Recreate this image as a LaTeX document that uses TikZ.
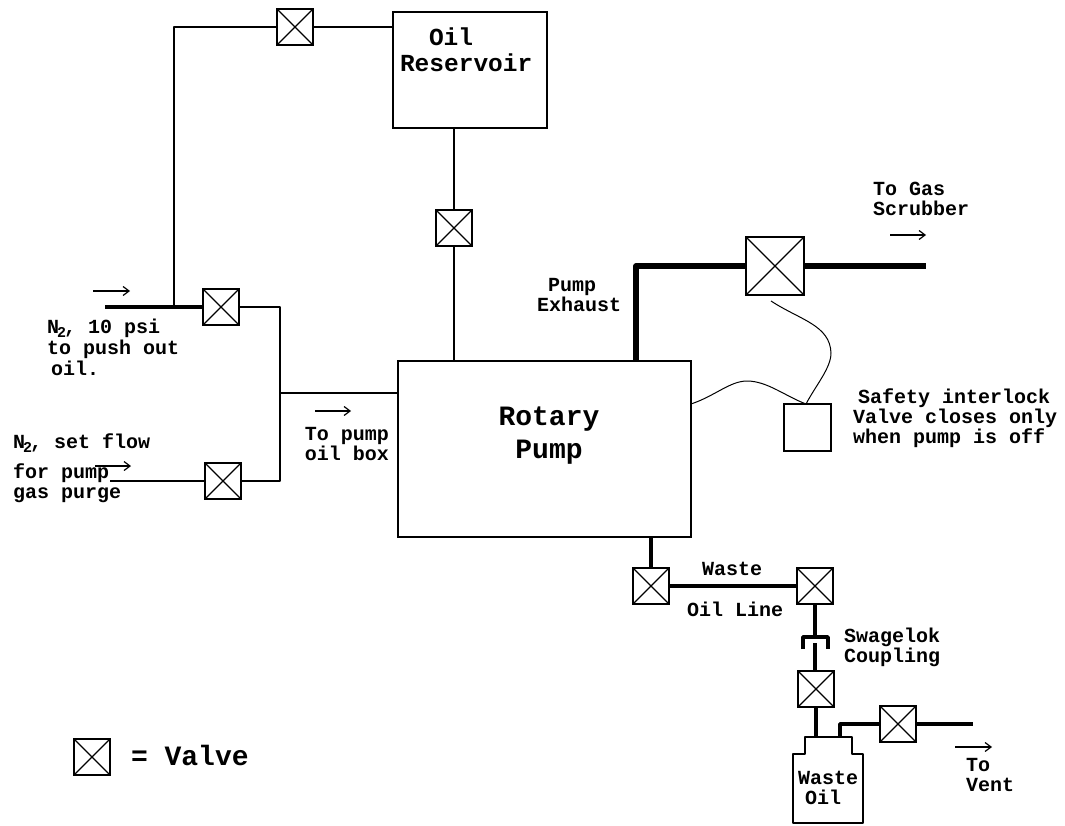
\documentclass[tikz,border=0pt]{standalone}
\usepackage{fontspec}
\setmainfont{Liberation Mono}[BoldFont={Liberation Mono Bold}]
\usetikzlibrary{arrows.meta}
\newcommand{\ntwo}{N\kern-2pt\raisebox{-4pt}{\fontsize{15}{15}\selectfont 2}\kern-2pt}
\tikzset{
  lbl/.style={inner sep=0pt,outer sep=0pt,font=\fontsize{20}{20}\selectfont\bfseries,align=left,anchor=west},
  valve/.style={draw,line width=2pt,fill=white,inner sep=0pt,outer sep=0pt,minimum size=#1,
    path picture={\draw[line width=1.1pt] (path picture bounding box.north west)--(path picture bounding box.south east)
      (path picture bounding box.north east)--(path picture bounding box.south west);}},
  valve/.default=36pt,
  tank/.style={draw,line width=1.5pt,inner sep=0pt,outer sep=0pt},
  thinpipe/.style={line width=1.5pt},
  medpipe/.style={line width=2.6pt},
  heavypipe/.style={line width=3.6pt},
  fatpipe/.style={line width=5.5pt},
  flow/.style={line width=1.2pt,-{Straight Barb[length=6pt,width=9pt]}},
  wire/.style={line width=1pt},
}
\begin{document}
\begin{tikzpicture}[x=1pt,y=-1pt]
\useasboundingbox[fill=white] (0,0) rectangle (1065,826);
% equipment
\node[tank,minimum width=154pt,minimum height=116pt] (res) at (470,70) {};
\node[tank,minimum width=293pt,minimum height=176pt] (pump) at (544.5,449) {};
\node[tank,minimum width=47pt,minimum height=47pt] (lock) at (807.5,427.5) {};
% valves
\node[valve] (vtop) at (295,27) {};
\node[valve] (vres) at (454,228) {};
\node[valve] (vn1) at (221,307) {};
\node[valve] (vn2) at (223,481) {};
\node[valve=58pt] (vex) at (775,266) {};
\node[valve] (vw1) at (651,586) {};
\node[valve] (vw2) at (815,586) {};
\node[valve] (vw3) at (816,689) {};
\node[valve] (vv) at (898,724) {};
\node[valve] (vleg) at (92,757) {};
% free ends and junctions
\coordinate (n1in) at (105,307);
\coordinate (n2in) at (110,481);
\coordinate (tee1) at (174,307);
\coordinate (corner1) at (174,27);
\coordinate (bus1) at (280,307);
\coordinate (bus2) at (280,481);
\coordinate (bus3) at (280,393);
\coordinate (pumpin) at (398,393);
\coordinate (exout) at (926,266);
\coordinate (excorner) at (636,266);
\coordinate (expump) at (636,361);
\coordinate (ventout) at (973,724);
\coordinate (cplT) at (815,637);
\coordinate (cplB) at (815,643);
\coordinate (neck) at (816,737);
\coordinate (neck2) at (840,737);
\coordinate (drain) at (651,537);
% pipes
\draw[thinpipe] (vres.north) -- (vres.north |- res.south);
\draw[thinpipe] (vres.south) -- (vres.south |- pump.north);
\draw[medpipe,line join=round] (tee1) -- (corner1) -- (vtop.west);
\draw[thinpipe] (vtop.east) -- (vtop.east -| res.west);
\draw[heavypipe] (n1in) -- (vn1.west);
\draw[medpipe,line join=round] (vn1.east) -- (bus1) -- (bus2) -- (vn2.east);
\draw[medpipe] (n2in) -- (vn2.west);
\draw[medpipe] (bus3) -- (pumpin);
\draw[fatpipe,line join=round] (expump) -- (excorner) -- (vex.west);
\draw[fatpipe] (vex.east) -- (exout);
\draw[heavypipe] (drain) -- (vw1.north);
\draw[heavypipe] (vw1.east) -- (vw2.west);
\draw[heavypipe] (vw2.south) -- (cplT);
\draw[heavypipe,line join=round] (803,649) -- (803,637) -- (828,637) -- (828,649);
\draw[heavypipe] (cplB) -- (vw3.north -| cplB);
\draw[heavypipe] (vw3.south) -- (neck);
\draw[heavypipe,line join=round] (neck2) -- (840,724) -- (vv.west);
\draw[heavypipe] (vv.east) -- (ventout);
% waste bottle
\draw[line width=2.6pt,line join=round] (805,754) -- (805,737) -- (852,737) -- (852,754) -- (863,754) -- (863,823) -- (793,823) -- (793,754) -- cycle;
% wires
\draw[wire] (771,301) .. controls (800,320) and (830,325) .. (831,353) .. controls (831,368) and (816,385) .. (806,404);
\draw[wire] (691,404) .. controls (715,396) and (730,381) .. (747,381) .. controls (767,381) and (785,396) .. (806,404);
% flow arrows
\draw[flow] (93,291) -- (130,291);
\draw[flow] (95,466) -- (131,466);
\draw[flow] (315,411) -- (351,411);
\draw[flow] (890,235) -- (926,235);
\draw[flow] (955,747) -- (992,747);
% labels
\node[lbl,font=\fontsize{24.5}{26}\selectfont\bfseries,align=left] (tres) at (400,50) {\hspace{29pt}Oil\\Reservoir};
\node[lbl,font=\fontsize{28}{33}\selectfont\bfseries,align=center,anchor=center] (tpump) at (549,436) {Rotary\\Pump};
\node[lbl,font=\fontsize{20}{21}\selectfont\bfseries] (tn1) at (47,347) {\ntwo, 10 psi\\to push out\\\hspace{4pt}oil.};
\node[lbl] (tn2) at (13,468) {\ntwo, set flow\\[10pt]for pump\\gas purge};
\node[lbl,font=\fontsize{20}{16}\selectfont\bfseries,align=right,anchor=east] (tbox) at (389,444) {To pump\hspace{6pt}\\oil box};
\node[lbl] (tex) at (537,295) {\hspace{11pt}Pump\\Exhaust};
\node[lbl] (tgas) at (873,199) {To Gas\\Scrubber};
\node[lbl] (tsafe) at (853,418) {\hspace{5pt}Safety interlock\\Valve closes only\\when pump is off};
\node[lbl,anchor=center] (twaste) at (732,569) {Waste};
\node[lbl,anchor=center] (toil) at (735,609) {Oil Line};
\node[lbl] (tswag) at (844,647) {Swagelok\\Coupling};
\node[lbl] (tbot) at (798,788) {Waste\\\hspace{7pt}Oil};
\node[lbl] (tvent) at (966,775) {To\\Vent};
\node[lbl,font=\fontsize{28}{28}\selectfont\bfseries] (tleg) at (131,755) {= Valve};
\end{tikzpicture}
\end{document}
